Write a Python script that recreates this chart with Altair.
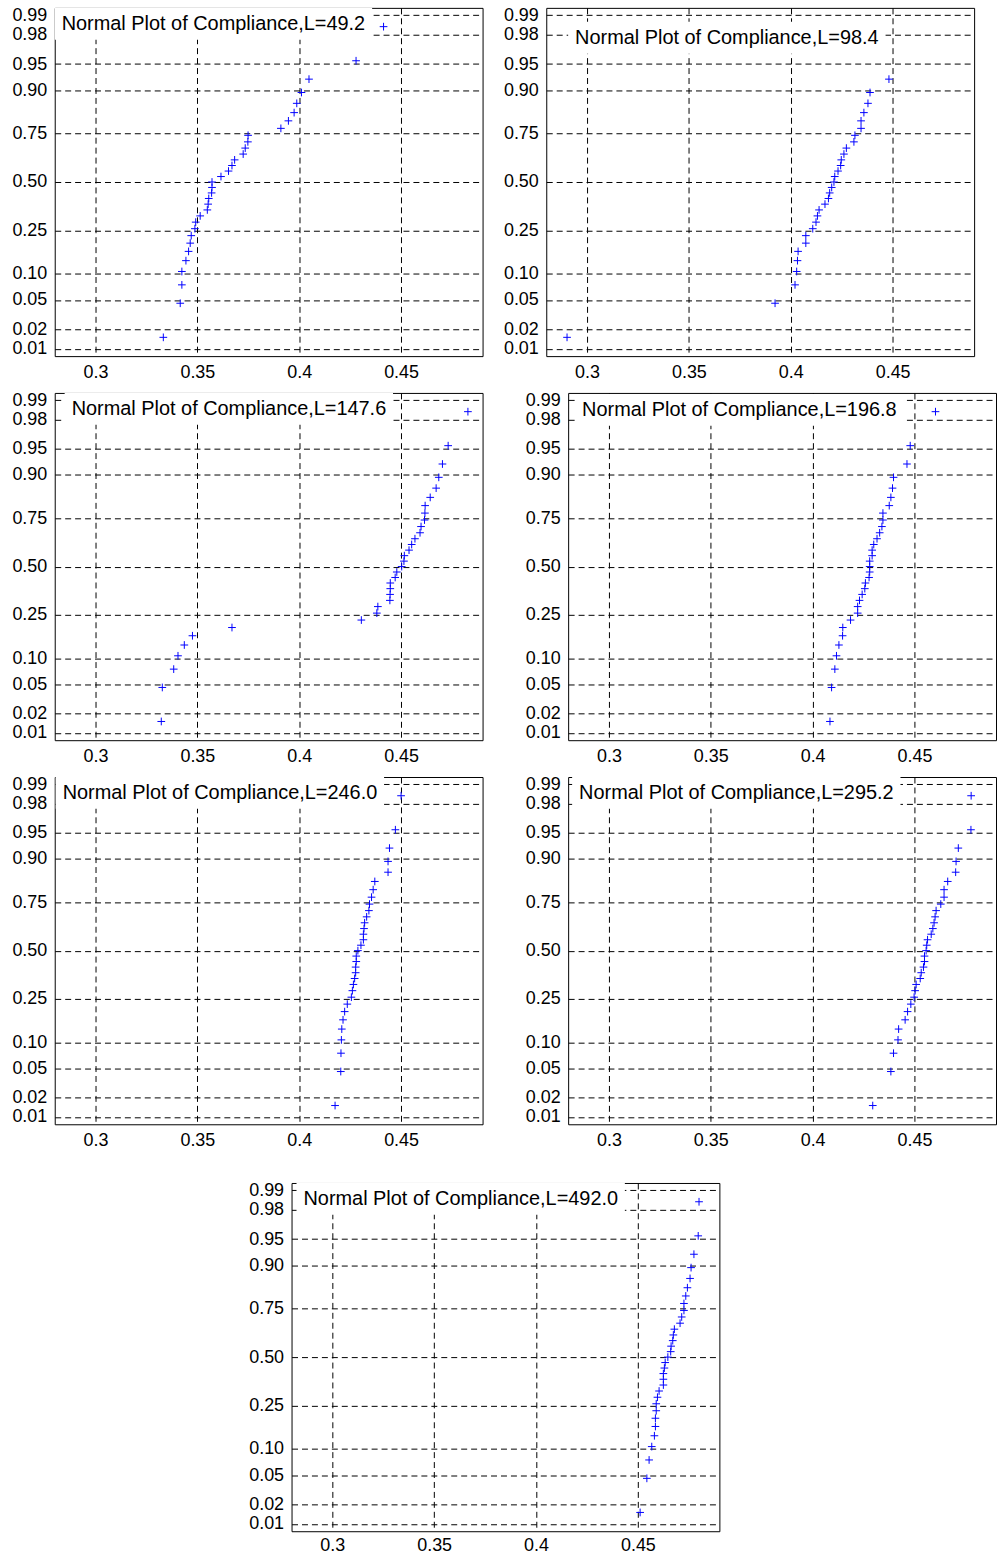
import altair as alt
import pandas as pd
from statistics import NormalDist

LABEL_PREFIX = "Normal Plot of Compliance,L="
lengths = ["49.2", "98.4", "147.6", "196.8", "246.0", "295.2", "492.0"]

# sorted compliance samples (33 per panel)
compliance_L49_2 = [0.3333, 0.3416, 0.3424, 0.3424, 0.3444, 0.3457, 0.3465, 0.3470, 0.3488, 0.3492,
                    0.3514, 0.3549, 0.3553, 0.3556, 0.3570, 0.3572, 0.3572, 0.3616, 0.3653, 0.3670,
                    0.3683, 0.3725, 0.3735, 0.3748, 0.3749, 0.3910, 0.3947, 0.3975, 0.3988, 0.4011,
                    0.4048, 0.4279, 0.4414]
compliance_L98_4 = [0.2902, 0.3923, 0.4021, 0.4029, 0.4033, 0.4036, 0.4074, 0.4074, 0.4108, 0.4124,
                    0.4131, 0.4139, 0.4168, 0.4185, 0.4191, 0.4201, 0.4212, 0.4216, 0.4232, 0.4245,
                    0.4248, 0.4261, 0.4273, 0.4310, 0.4315, 0.4345, 0.4345, 0.4359, 0.4379, 0.4389,
                    0.4482, 0.4930, 0.4970]
compliance_L147_6 = [0.3323, 0.3328, 0.3384, 0.3405, 0.3436, 0.3476, 0.3670, 0.4305, 0.4381, 0.4386,
                     0.4445, 0.4446, 0.4447, 0.4447, 0.4471, 0.4479, 0.4503, 0.4514, 0.4516, 0.4539,
                     0.4552, 0.4568, 0.4593, 0.4598, 0.4615, 0.4617, 0.4618, 0.4643, 0.4672, 0.4685,
                     0.4703, 0.4731, 0.4828]
compliance_L196_8 = [0.4085, 0.4093, 0.4109, 0.4117, 0.4129, 0.4147, 0.4148, 0.4186, 0.4221, 0.4221,
                     0.4230, 0.4243, 0.4256, 0.4259, 0.4277, 0.4280, 0.4280, 0.4280, 0.4292, 0.4292,
                     0.4300, 0.4316, 0.4329, 0.4340, 0.4345, 0.4345, 0.4376, 0.4384, 0.4392, 0.4397,
                     0.4463, 0.4479, 0.4603]
compliance_L246_0 = [0.4176, 0.4204, 0.4205, 0.4207, 0.4209, 0.4215, 0.4223, 0.4236, 0.4256, 0.4261,
                     0.4266, 0.4272, 0.4277, 0.4277, 0.4280, 0.4280, 0.4288, 0.4303, 0.4315, 0.4315,
                     0.4318, 0.4321, 0.4331, 0.4342, 0.4345, 0.4355, 0.4363, 0.4371, 0.4436, 0.4436,
                     0.4443, 0.4472, 0.4500]
compliance_L295_2 = [0.4295, 0.4384, 0.4397, 0.4419, 0.4422, 0.4454, 0.4466, 0.4482, 0.4498, 0.4503,
                     0.4508, 0.4528, 0.4533, 0.4544, 0.4549, 0.4549, 0.4557, 0.4560, 0.4564, 0.4582,
                     0.4590, 0.4596, 0.4601, 0.4606, 0.4629, 0.4645, 0.4645, 0.4663, 0.4702, 0.4704,
                     0.4715, 0.4777, 0.4778]
compliance_L492_0 = [0.4511, 0.4544, 0.4555, 0.4568, 0.4581, 0.4586, 0.4586, 0.4590, 0.4590, 0.4596,
                     0.4604, 0.4625, 0.4625, 0.4625, 0.4630, 0.4634, 0.4647, 0.4661, 0.4663, 0.4671,
                     0.4674, 0.4679, 0.4707, 0.4715, 0.4726, 0.4726, 0.4735, 0.4743, 0.4756, 0.4761,
                     0.4775, 0.4796, 0.4800]

prob_ticks = [0.01, 0.02, 0.05, 0.10, 0.25, 0.50, 0.75, 0.90, 0.95, 0.98, 0.99]
x_ticks = [0.3, 0.35, 0.4, 0.45]
x_domain = [0.28, 0.49]
z_limit = 2.428

z_ticks = [NormalDist().inv_cdf(p) for p in prob_ticks]
PLUS = "M-1,0L1,0M0,-1L0,1"
FONT = "Liberation Sans"


def panel(values, length, width, height, lx, ly, lpad, x_ext, x_pad=7):
    name = LABEL_PREFIX + length
    df = pd.DataFrame({"compliance": values, "series": name})
    base = (
        alt.Chart(df)
        .transform_window(rank="row_number()", sort=[alt.SortField("compliance", order="ascending")])
        .transform_joinaggregate(n="count()")
        .transform_calculate(z="quantileNormal((datum.rank - 0.5) / datum.n)")
    )
    return base.mark_point(
        shape=PLUS, filled=False, size=60, strokeWidth=1, opacity=1, clip=True
    ).encode(
        x=alt.X(
            "compliance:Q",
            scale=alt.Scale(domain=x_domain, nice=False, zero=False),
            axis=alt.Axis(values=x_ticks, format=".2~f", title=None, grid=True, ticks=False,
                          domain=False, labelPadding=x_pad, minExtent=x_ext, maxExtent=x_ext,
                          labelFlush=False, labelOverlap=False),
        ),
        y=alt.Y(
            "z:Q",
            scale=alt.Scale(domain=[-z_limit, z_limit], nice=False, zero=False),
            axis=alt.Axis(values=z_ticks, labelExpr="format(cumulativeNormal(datum.value), '.2f')",
                          title=None, grid=True, ticks=False, domain=False, labelPadding=8,
                          minExtent=54, maxExtent=54, labelFlush=False, labelOverlap=False),
        ),
        color=alt.Color(
            "series:N",
            scale=alt.Scale(range=["#0000ff"]),
            legend=alt.Legend(title=None, orient="none", legendX=lx, legendY=ly, padding=lpad,
                              fillColor="white", symbolSize=0, symbolOpacity=0, symbolStrokeWidth=0,
                              labelOffset=alt.ExprRef("-19"), labelFontSize=20, labelFont=FONT,
                              labelLimit=600, labelColor="black"),
        ),
    ).properties(width=width, height=height)


p1 = panel(compliance_L49_2, lengths[0], 430, 350, 0, 0, 6, 25)
p2 = panel(compliance_L98_4, lengths[1], 430, 350, 22, 14, 6, 25)
p3 = panel(compliance_L147_6, lengths[2], 430, 349, 10, 0, 6, 25)
p4 = panel(compliance_L196_8, lengths[3], 430, 349, 7, 1, 6, 25)
p5 = panel(compliance_L246_0, lengths[4], 430, 349, 1, 0, 6, 47)
p6 = panel(compliance_L295_2, lengths[5], 430, 349, 4, 0, 6, 47)
p7 = panel(compliance_L492_0, lengths[6], 430, 350, 5, 0, 6, 23, x_pad=5)

# empty layout cell that centres the last panel under the grid
spacer = (
    alt.Chart(pd.DataFrame({"compliance": [0.0]}))
    .mark_point(opacity=0)
    .encode(x=alt.value(0), y=alt.value(0))
    .properties(width=183, height=10, view=alt.ViewBackground(strokeOpacity=0, strokeWidth=0))
)


def row(*charts, spacing=0):
    return (alt.hconcat(*charts, spacing=spacing)
            .resolve_scale(color="independent").resolve_legend(color="independent"))


row1 = row(p1, p2, spacing=8)
row2 = row(p3, p4, spacing=30)
row3 = row(p5, p6, spacing=30)
row4 = row(spacer, p7, spacing=0)

chart = (
    alt.vconcat(row1, row2, row3, row4, spacing=8)
    .resolve_scale(color="independent")
    .resolve_legend(color="independent")
    .properties(padding={"left": 0, "top": 1, "right": 0, "bottom": 0}, background="white")
    .configure_axis(labelFont=FONT, labelFontSize=18, labelColor="black",
                    gridColor="black", gridDash=[6, 4], gridWidth=1, gridOpacity=1)
    .configure_view(stroke="black", strokeWidth=1)
)

chart.save("out.html", embed_options={"renderer": "svg", "actions": False})
